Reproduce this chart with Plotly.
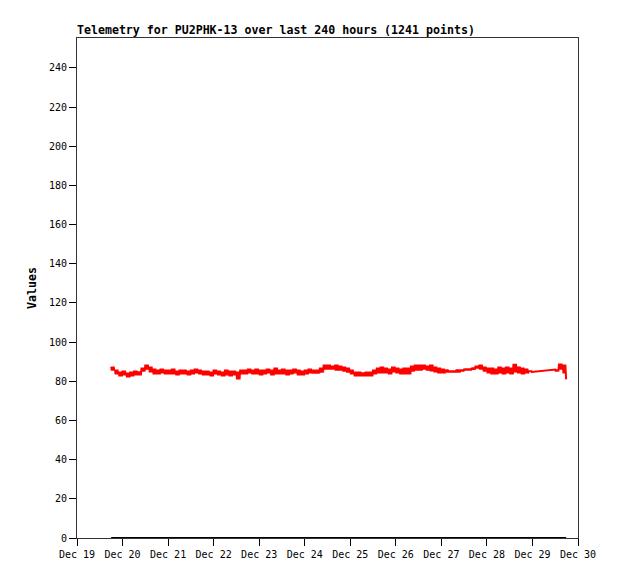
import plotly.graph_objects as go
from datetime import datetime, timedelta

# Two-hour buckets starting Dec 19 18:00; high / low of the noisy telemetry band (None = no data)
bucket_start = "2023-12-19 18:00"
bucket_hours = 2
band_high = [
    87.5, 86.0, 85.0, 85.5, 84.5, 85.0, 85.5, 85.0,
    87.0, 88.5, 87.5, 86.5, 86.0, 86.5, 86.0, 86.0,
    86.5, 85.5, 86.0, 86.0, 85.5, 86.0, 86.5, 86.0,
    85.5, 85.5, 85.0, 86.0, 85.5, 85.0, 86.0, 85.5,
    85.5, 85.0, 86.0, 86.0, 86.5, 86.0, 86.5, 86.0,
    86.0, 86.5, 86.0, 87.0, 86.0, 86.5, 86.0, 86.0,
    86.5, 86.0, 85.5, 86.0, 86.5, 86.0, 86.0, 87.0,
    88.5, 88.5, 88.0, 88.5, 88.0, 87.5, 87.0, 86.0,
    85.0, 85.0, 84.5, 85.0, 85.0, 86.0, 87.0, 87.5,
    87.0, 86.5, 87.5, 87.0, 86.5, 87.0, 87.0, 88.0,
    88.5, 88.5, 88.5, 88.0, 88.5, 87.5, 87.0, 86.5,
    86.0, 85.5, 85.5, 86.0, 86.0, 86.5, 86.5, 87.0,
    88.0, 88.5, 87.5, 87.0, 87.0, 86.5, 87.5, 87.0,
    87.5, 87.0, 89.0, 87.5, 87.0, 86.5, 85.5, None,
    None, None, None, None, None, 86.0, 89.0, 88.5,
]
band_low = [
    85.5, 83.5, 82.5, 83.0, 82.0, 82.5, 83.0, 83.0,
    85.0, 86.0, 84.5, 83.5, 83.5, 84.0, 83.5, 83.5,
    83.5, 83.0, 83.5, 83.5, 83.0, 83.5, 84.0, 83.5,
    83.0, 83.0, 82.5, 83.5, 83.0, 82.5, 83.0, 82.5,
    83.0, 81.0, 83.5, 83.5, 84.0, 83.5, 83.5, 83.0,
    83.5, 84.0, 83.0, 83.5, 83.5, 83.5, 83.0, 83.5,
    84.0, 83.0, 83.0, 83.5, 84.0, 84.0, 84.0, 84.5,
    86.0, 86.0, 86.0, 85.5, 85.5, 85.0, 84.5, 83.5,
    82.5, 82.5, 82.5, 82.5, 82.5, 83.5, 84.0, 84.0,
    84.0, 83.5, 84.5, 84.0, 83.5, 83.5, 83.5, 85.0,
    85.5, 85.5, 86.0, 85.5, 85.0, 84.5, 84.0, 84.0,
    84.5, 84.5, 84.5, 84.5, 85.0, 85.5, 85.5, 86.0,
    86.5, 86.0, 85.0, 84.0, 83.5, 83.5, 84.0, 83.5,
    84.0, 83.5, 84.5, 84.0, 83.5, 84.0, 84.8, None,
    None, None, None, None, None, 85.0, 86.0, 84.0,
]
final_time = "2023-12-29 17:45"
final_value = 81.0
zero_channel = 0.0

x_range = ["2023-12-19", "2023-12-30"]
y_ticks = [0, 20, 40, 60, 80, 100, 120, 140, 160, 180, 200, 220, 240]
y_max = 255.3
title_text = "Telemetry for PU2PHK-13 over last 240 hours (1241 points)"
y_title = "Values"

t0 = datetime.strptime(bucket_start, "%Y-%m-%d %H:%M")
xs, ys = [], []
for i, (h, l) in enumerate(zip(band_high, band_low)):
    if h is None:
        continue
    base = t0 + timedelta(hours=i * bucket_hours)
    for k, v in enumerate([h, l, h, l, h, l]):
        xs.append(base + timedelta(minutes=20 * k))
        ys.append(v)
xs.append(datetime.strptime(final_time, "%Y-%m-%d %H:%M"))
ys.append(final_value)

fig = go.Figure()
fig.add_trace(go.Scatter(x=[xs[0], xs[-1]], y=[zero_channel, zero_channel], mode="lines",
                         line=dict(color="black", width=2), hoverinfo="skip"))
fig.add_trace(go.Scatter(x=xs, y=ys, mode="lines", line=dict(color="#ff0000", width=2)))

mono = "DejaVu Sans Mono"
fig.update_layout(
    width=610, height=571,
    margin=dict(l=69, r=40, t=30, b=41),
    paper_bgcolor="white", plot_bgcolor="white",
    showlegend=False,
    font=dict(family=mono, size=10, color="black"),
)
fig.update_xaxes(
    range=x_range, type="date", dtick=86400000, tickformat="%b %d",
    showgrid=False, zeroline=False, showline=True, linecolor="#333", linewidth=1, mirror=True,
    ticks="outside", ticklen=7, tickcolor="black",
    tickfont=dict(family=mono, size=10),
)
fig.update_yaxes(
    range=[0, y_max], tickvals=y_ticks,
    showgrid=False, zeroline=False, showline=True, linecolor="#333", linewidth=1, mirror=True,
    ticks="outside", ticklen=7, tickcolor="black",
    tickfont=dict(family=mono, size=10),
)
fig.add_annotation(text="<b>" + title_text + "</b>", xref="paper", yref="paper", x=0, y=1,
                   xanchor="left", yanchor="bottom", showarrow=False, yshift=-1, xshift=-2,
                   font=dict(family=mono, size=11.6, color="black"))
fig.add_annotation(text="<b>" + y_title + "</b>", xref="paper", yref="paper", x=0, y=0.5,
                   xanchor="center", yanchor="middle", textangle=-90, showarrow=False, xshift=-45,
                   font=dict(family=mono, size=11.6, color="black"))
fig.write_html("out.html")
